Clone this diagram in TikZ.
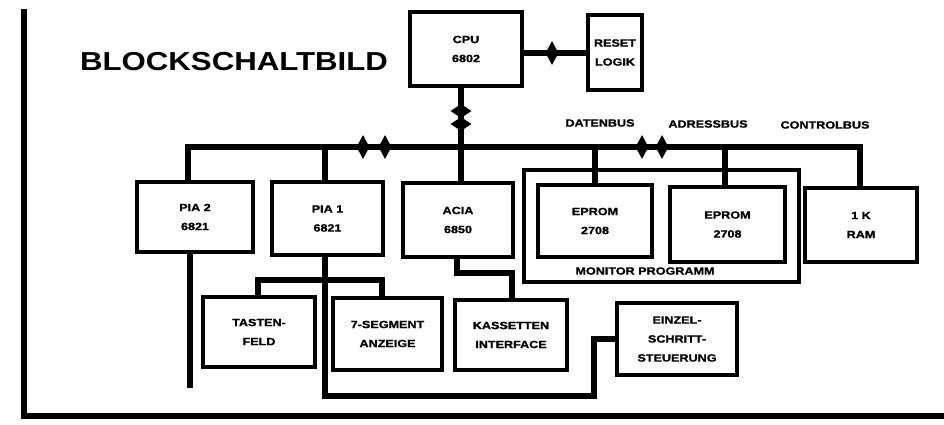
\documentclass[tikz,border=0pt]{standalone}
\usepackage{fontspec}
\usetikzlibrary{shapes.geometric}
\newfontfamily\lbl{Liberation Sans}[FakeStretch=1.2]
\newfontfamily\lblheavy{Liberation Sans}[FakeStretch=1.2,FakeBold=1.2]
\tikzset{
  box/.style={draw, line width=4.5pt, inner sep=0pt, align=center,
    font=\lblheavy\bfseries\fontsize{10.5}{19}\selectfont},
  lab/.style={inner sep=0pt, font=\lblheavy\bfseries\fontsize{10.5}{19}\selectfont},
  bus/.style={line width=5.5pt, line join=miter},
  border/.style={line width=6pt, line join=miter},
  dh/.style={diamond, fill=black, inner sep=0pt, minimum width=13pt, minimum height=24pt},
  dv/.style={diamond, fill=black, inner sep=0pt, minimum width=21pt, minimum height=14pt}
}
\begin{document}
\begin{tikzpicture}[x=1pt,y=-1pt]
\useasboundingbox (0,0) rectangle (944,424);
% border
\draw[border] (24,9) -- (24,416) -- (947,416);
% title
\node[inner sep=0pt, font=\lbl\bfseries\fontsize{26}{30}\selectfont] (title) at (234,62) {BLOCKSCHALTBILD};
% boxes
\node[box, minimum width=112pt, minimum height=74pt] (cpu) at (466,49) {CPU\\6802};
\node[box, minimum width=54pt, minimum height=75pt] (reset) at (615,52.5) {RESET\\LOGIK};
\node[box, minimum width=116pt, minimum height=70pt] (pia2) at (195,217) {PIA 2\\6821};
\node[box, minimum width=111pt, minimum height=73pt] (pia1) at (327.5,218.5) {PIA 1\\6821};
\node[box, minimum width=110pt, minimum height=74pt] (acia) at (458,220) {ACIA\\6850};
\node[box, minimum width=275pt, minimum height=112pt] (mon) at (661.5,226) {};
\node[box, minimum width=114pt, minimum height=72pt] (ep1) at (595,221) {EPROM\\2708};
\node[box, minimum width=115pt, minimum height=75pt] (ep2) at (727.5,224.5) {EPROM\\2708};
\node[box, minimum width=112pt, minimum height=74pt] (ram) at (861,225) {1 K\\RAM};
\node[box, minimum width=112pt, minimum height=70pt] (tast) at (259,332) {TASTEN-\\FELD};
\node[box, minimum width=109pt, minimum height=72pt] (seg) at (387.5,334) {7-SEGMENT\\ANZEIGE};
\node[box, minimum width=112pt, minimum height=70pt] (kass) at (511,335) {KASSETTEN\\INTERFACE};
\node[box, minimum width=120pt, minimum height=72pt] (einz) at (677,339) {EINZEL-\\SCHRITT-\\STEUERUNG};
% labels
\node[lab] (monlab) at (645,271) {MONITOR PROGRAMM};
\node[lab] (daten) at (600,123) {DATENBUS};
\node[lab] (adress) at (708,124) {ADRESSBUS};
\node[lab] (control) at (825,125) {CONTROLBUS};
% bus coordinates
\coordinate (bL) at (188,147);
\coordinate (bR) at (860,147);
\coordinate (b1) at (325,147);
\coordinate (bc) at (461,147);
\coordinate (be1) at (595,147);
\coordinate (be2) at (725,147);
% main bus
\draw[bus] (pia2.north -| bL) -- (bL) -- (bR) -- (ram.north -| bR);
\draw[bus] (b1) -- (pia1.north -| b1);
\draw[bus] (cpu.south -| bc) -- (acia.north -| bc);
\draw[bus] (be1) -- (ep1.north -| be1);
\draw[bus] (be2) -- (ep2.north -| be2);
\draw[bus] (cpu.east |- 0,53) -- (reset.west |- 0,53);
% bus markers
\node[dh] (m1) at (552,53) {};
\node[dv] (m2) at (461,111) {};
\node[dv] (m3) at (461,124) {};
\node[dh] (m4) at (363,147) {};
\node[dh] (m5) at (385,147) {};
\node[dh] (m6) at (642,147) {};
\node[dh] (m7) at (662,147) {};
% lower connections
\coordinate (p2end) at (190,388);
\draw[bus] (pia2.south -| p2end) -- (p2end);
\coordinate (t1) at (258,280);
\coordinate (s1) at (382,280);
\draw[bus] (tast.north -| t1) -- (t1) -- (s1) -- (seg.north -| s1);
\coordinate (p1a) at (325,396);
\coordinate (p1b) at (594,396);
\draw[bus] (pia1.south -| p1a) -- (p1a) -- (p1b) |- (einz.west);
\coordinate (k1) at (457,273);
\coordinate (k2) at (512,273);
\draw[bus] (acia.south -| k1) -- (k1) -- (k2) -- (kass.north -| k2);
\end{tikzpicture}
\end{document}
